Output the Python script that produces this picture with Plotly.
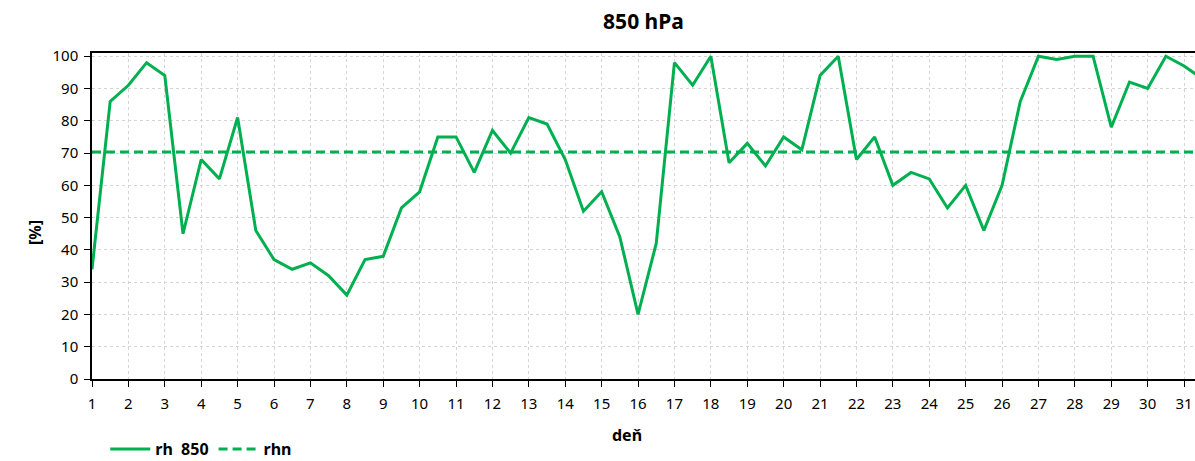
import plotly.graph_objects as go

# Relative humidity at 850 hPa, sampled twice a day
days = [1 + 0.5 * i for i in range(62)]
rh_850 = [34, 86, 91, 98, 94, 45, 68, 62, 81, 46,
          37, 34, 36, 32, 26, 37, 38, 53, 58, 75,
          75, 64, 77, 70, 81, 79, 68, 52, 58, 44,
          20, 42, 98, 91, 100, 67, 73, 66, 75, 71,
          94, 100, 68, 75, 60, 64, 62, 53, 60, 46,
          60, 86, 100, 99, 100, 100, 78, 92, 90, 100,
          97, 93]
# Long-term normal
rhn_value = 70.3
rhn = [rhn_value] * len(days)

tick_days = list(range(1, 32))
y_ticks = list(range(0, 101, 10))

green = "rgb(0,176,80)"
font_family = "Noto Sans, DejaVu Sans, sans-serif"

fig = go.Figure()
fig.add_trace(go.Scatter(x=days, y=rh_850, mode="lines", name="<b>rh  850</b>",
                         line=dict(color=green, width=3)))
fig.add_trace(go.Scatter(x=days, y=rhn, mode="lines", name="<b>rhn</b>",
                         line=dict(color=green, width=3, dash="9px,5px")))

fig.update_layout(
    width=1195, height=461,
    margin=dict(l=92, r=0, t=53, b=82, autoexpand=False),
    paper_bgcolor="white", plot_bgcolor="white",
    font=dict(family=font_family, size=15, color="black"),
    title=dict(text="<b>850 hPa</b>", x=0.5, xref="paper", xanchor="center",
               y=0.952, yref="container", yanchor="middle", font=dict(size=21)),
    showlegend=True,
    legend=dict(orientation="h", x=0.012, xanchor="left",
                yref="container", y=0.026, yanchor="middle",
                font=dict(size=16), bgcolor="rgba(0,0,0,0)",
                itemwidth=40, tracegroupgap=0),
    xaxis=dict(
        range=[1, 31.3], tickmode="array", tickvals=tick_days,
        ticktext=[str(d) for d in tick_days],
        showgrid=True, gridcolor="#d4d4d4", griddash="dot", gridwidth=1,
        showline=True, linecolor="black", linewidth=1.5, mirror=True,
        ticks="outside", ticklen=6, tickcolor="black", ticklabelstandoff=4,
        zeroline=False, automargin=False,
    ),
    yaxis=dict(
        range=[0, 101], tickmode="array", tickvals=y_ticks,
        showgrid=True, gridcolor="#d4d4d4", griddash="dot", gridwidth=1,
        showline=True, linecolor="black", linewidth=1.5,
        ticks="outside", ticklen=6, tickcolor="black", ticklabelstandoff=3,
        zeroline=False, automargin=False,
    ),
    annotations=[
        dict(text="<b>deň</b>", x=627, y=435, xref="paper", yref="paper",
             xanchor="center", yanchor="middle",
             showarrow=False, font=dict(size=16)),
        dict(text="<b>[%]</b>", x=35, y=232, xref="paper", yref="paper",
             xanchor="center", yanchor="middle",
             showarrow=False, textangle=-90, font=dict(size=16)),
    ],
)

# Annotation positions above are in pixels; convert them to paper coordinates
plot_w = 1195 - 92
plot_h = 461 - 53 - 82
for ann in fig.layout.annotations:
    ann.x = (ann.x - 92) / plot_w
    ann.y = (461 - 82 - ann.y) / plot_h

fig.write_html("out.html")
